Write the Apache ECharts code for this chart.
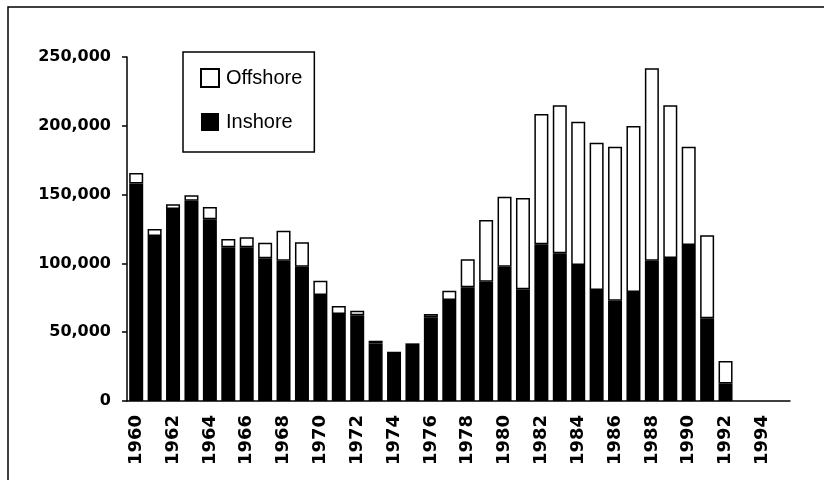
<!DOCTYPE html>
<html>
<head>
<meta charset="utf-8">
<script src="https://cdn.jsdelivr.net/npm/echarts@6/dist/echarts.min.js"></script>
<style>
  html, body { margin: 0; padding: 0; background: #fff; }
  #chart { width: 824px; height: 480px; }
</style>
</head>
<body>
<div id="chart"></div>
<script>
// years 1960 - 1995
var years = [];
for (var y = 1960; y <= 1995; y++) { years.push(String(y)); }

// values (null = no bar)
var inshore = [158000, 120000, 139500, 145500, 132000, 111700, 111700, 103700, 102000, 97600,
               77000, 63200, 62300, 41900, 35800, 41900, 60800, 73400, 82600, 86700,
               97600, 81200, 114000, 107300, 98800, 80700, 72900, 79200, 102000, 104000,
               113400, 60100, 12800, null, null, null];
var offshore = [7700, 5000, 3500, 4100, 9000, 6000, 7300, 11300, 21800, 17700,
                10400, 5800, 3300, 1900, null, null, 2400, 6800, 20400, 44800,
                50900, 66300, 94600, 107700, 104200, 107000, 111900, 120700, 139800, 111000,
                71400, 60300, 16200, null, null, null];
var yTicks = [0, 50000, 100000, 150000, 200000, 250000];

var chart = echarts.init(document.getElementById('chart'));

var option = {
  backgroundColor: '#fff',
  animation: false,
  graphic: [{
    type: 'rect',
    shape: { x: 8, y: 7, width: 822, height: 480 },
    style: { fill: 'none', stroke: '#000', lineWidth: 1.5 }
  }],
  legend: {
    orient: 'vertical',
    left: 183,
    top: 52,
    data: [{ name: 'Offshore', icon: 'rect' }, { name: 'Inshore', icon: 'rect' }],
    itemWidth: 18,
    itemHeight: 18,
    itemGap: 24,
    padding: [16, 12, 20, 17],
    borderColor: '#000',
    borderWidth: 1.5,
    backgroundColor: '#fff',
    textStyle: { fontFamily: 'Liberation Sans', fontSize: 20, color: '#000', padding: [0, 0, 0, 2] }
  },
  grid: {
    left: 127,
    right: 34,
    top: 57,
    bottom: 79
  },
  xAxis: {
    type: 'category',
    data: years,
    axisLine: { lineStyle: { color: '#000', width: 1.5 } },
    axisTick: { interval: 0, length: 5, lineStyle: { color: '#000', width: 1.5 } },
    axisLabel: {
      interval: 1,
      rotate: 90,
      margin: 14,
      fontFamily: 'DejaVu Sans',
      fontWeight: 'bold',
      fontSize: 18,
      color: '#000'
    }
  },
  yAxis: {
    type: 'value',
    min: yTicks[0],
    max: yTicks[yTicks.length - 1],
    interval: 50000,
    splitLine: { show: false },
    axisLine: { show: true, lineStyle: { color: '#000', width: 1.5 } },
    axisTick: { show: true, length: 5, lineStyle: { color: '#000', width: 1.5 } },
    axisLabel: {
      margin: 16,
      fontFamily: 'DejaVu Sans',
      fontWeight: 'bold',
      fontSize: 16,
      color: '#000',
      formatter: function (v) { return v.toLocaleString('en-US'); }
    }
  },
  series: [
    {
      name: 'Inshore',
      type: 'bar',
      stack: 'total',
      barWidth: 14,
      data: inshore,
      itemStyle: { color: '#000' }
    },
    {
      name: 'Offshore',
      type: 'bar',
      stack: 'total',
      barWidth: 14,
      data: offshore,
      itemStyle: { color: '#fff', borderColor: '#000', borderWidth: 1.5 }
    }
  ]
};

chart.setOption(option);
</script>
</body>
</html>
